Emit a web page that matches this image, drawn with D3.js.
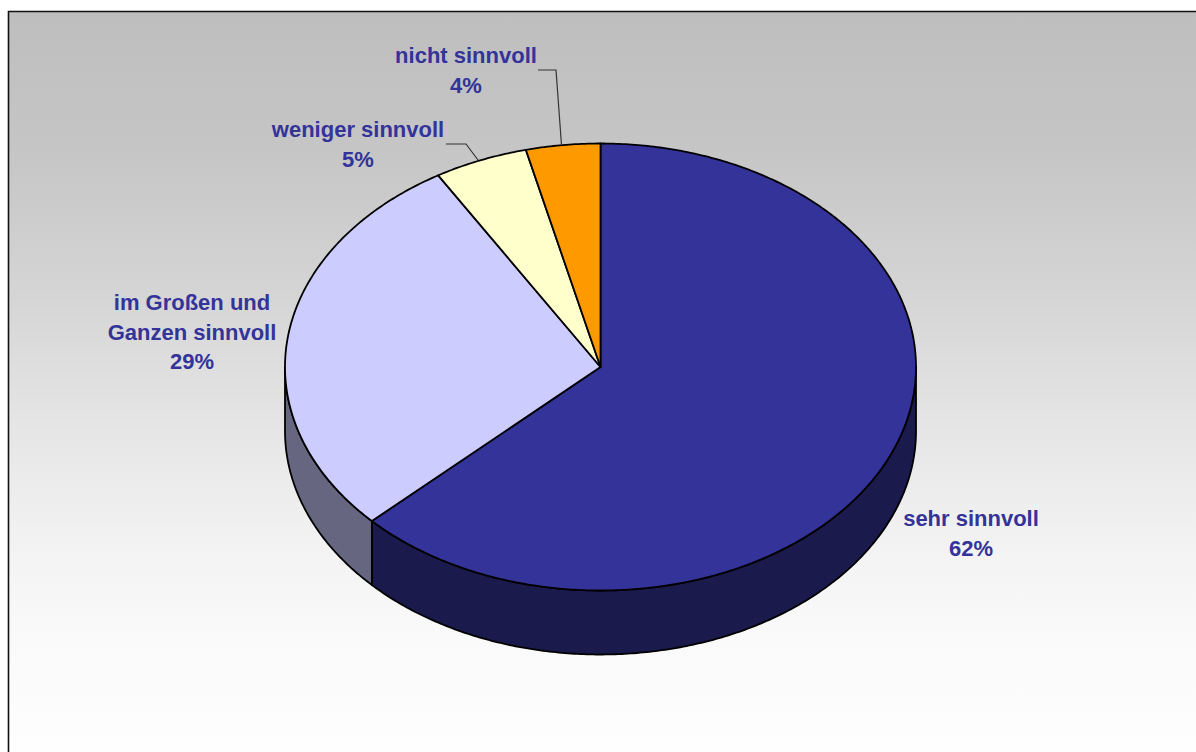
<!DOCTYPE html>
<html><head><meta charset="utf-8">
<script src="https://cdn.jsdelivr.net/npm/d3@7/dist/d3.min.js"></script>
<style>html,body{margin:0;padding:0;background:#fff;overflow:hidden}svg{display:block}text{font-family:"Liberation Sans",Arial,sans-serif;font-weight:bold;font-size:22px;fill:#333399}</style>
</head><body><svg id="c" width="1196" height="752"></svg>
<script>
const categories = ["sehr sinnvoll","im Großen und Ganzen sinnvoll","weniger sinnvoll","nicht sinnvoll"];
const sliceShares = [62.9,28.5,4.8,3.8];
const percentLabels = ["62%","29%","5%","4%"];
const topColors = ["#333399","#CCCCFF","#FFFFCC","#FF9900"];
const wallColors = ["#1A1A4D","#666680","#808066","#804D00"];
const labelLines = [["sehr sinnvoll"],["im Großen und","Ganzen sinnvoll"],["weniger sinnvoll"],["nicht sinnvoll"]];

const svg = d3.select("#c");
const W=1196,H=752;
const cx=600.5, cy=367, rx=315.5, ry=223.5, depth=64;

const defs=svg.append("defs");
const g=defs.append("linearGradient").attr("id","bg").attr("gradientUnits","userSpaceOnUse").attr("x1",0).attr("y1",0).attr("x2",0).attr("y2",H);
[[11,"#bebebe"],[144,"#c5c5c5"],[288,"#d4d4d4"],[432,"#e6e6e6"],[530,"#f1f1f1"],[625,"#f9f9f9"],[720,"#fdfdfd"],[752,"#fefefe"]]
  .forEach(s=>g.append("stop").attr("offset",s[0]/H).attr("stop-color",s[1]));
svg.append("rect").attr("x",8.5).attr("y",11.5).attr("width",W).attr("height",H).attr("fill","url(#bg)");
svg.append("path").attr("d",`M8.5 ${H}V11.5H${W}`).attr("fill","none").attr("stroke","#111").attr("stroke-width",1.6);

const arcs=d3.pie().sort(null).value(d=>d)(sliceShares);
const px=a=>cx+rx*Math.sin(a), py=a=>cy-ry*Math.cos(a);
const arcPts=(a0,a1,dy=0)=>{const n=Math.max(2,Math.ceil(Math.abs(a1-a0)/0.01));
  return d3.range(n+1).map(i=>{const a=a0+(a1-a0)*i/n;return [px(a),py(a)+dy];});};
const line=d3.line();

arcs.forEach((d,i)=>{
  const a0=Math.max(d.startAngle,Math.PI/2), a1=Math.min(d.endAngle,Math.PI*1.5);
  if(a1<=a0) return;
  const pts=arcPts(a0,a1,0).concat(arcPts(a1,a0,depth));
  svg.append("path").attr("d",line(pts)+"Z").attr("fill",wallColors[i]).attr("stroke","#000").attr("stroke-width",1.8).attr("stroke-linejoin","round");
});
arcs.forEach((d,i)=>{
  const pts=[[cx,cy]].concat(arcPts(d.startAngle,d.endAngle));
  svg.append("path").attr("d",line(pts)+"Z").attr("fill",topColors[i]).attr("stroke","#000").attr("stroke-width",1.8).attr("stroke-linejoin","round");
});

const leaders=[[[538,70],[556,70],[561.5,145]],[[446,144],[466,144],[478,160]]];
leaders.forEach(l=>svg.append("path").attr("d",line(l)).attr("fill","none").attr("stroke","#333").attr("stroke-width",1.2));

const labelPos=[[971,526],[192,310],[358,137],[466,63]];
categories.forEach((c,i)=>{
  const lines=labelLines[i].concat(percentLabels[i]);
  const t=svg.append("text").attr("text-anchor","middle");
  lines.forEach((s,j)=>t.append("tspan").attr("x",labelPos[i][0]).attr("y",labelPos[i][1]+j*29.7).text(s));
});
</script></body></html>
